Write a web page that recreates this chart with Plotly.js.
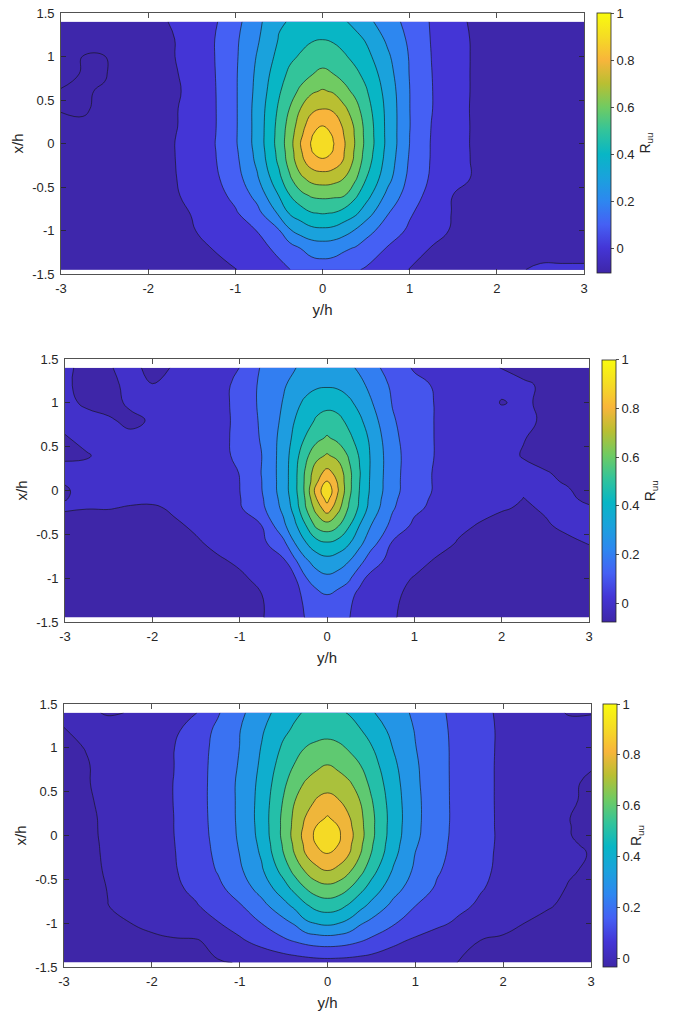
<!DOCTYPE html>
<html>
<head>
<meta charset="utf-8">
<script src="https://cdn.plot.ly/plotly-3.0.1.min.js"></script>
<style>
html,body{margin:0;padding:0;background:#fff;}
#chart{width:675px;height:1011px;}
</style>
</head>
<body>
<div id="chart"></div>
<script>
// ---------------- DATA ----------------
// horizontal grid positions, y/h
const yOverH = [-3,-2.75,-2.5,-2.25,-2,-1.75,-1.5,-1.25,-1,-0.75,-0.5,-0.375,-0.25,-0.125,0,0.125,0.25,0.375,0.5,0.75,1,1.25,1.5,1.75,2,2.25,2.5,2.75,3];
// vertical grid positions, x/h (top row first)
const xOverH = [1.4,1.2,1.0,0.8,0.6,0.4,0.2,0.1,0,-0.1,-0.2,-0.4,-0.6,-0.8,-1.0,-1.2,-1.45];

// R_uu, top panel (rows follow xOverH, columns follow yOverH)
const ruuTop = [
[-0.06,-0.06,-0.05,-0.04,-0.02,0.002,0.043,0.084,0.168,0.272,0.39,0.405,0.42,0.435,0.44,0.43,0.41,0.373,0.329,0.245,0.167,0.092,0.026,-0.015,-0.03,-0.04,-0.05,-0.05,-0.05],
[-0.06,-0.06,-0.05,-0.04,-0.025,-0.01,0.036,0.095,0.182,0.287,0.405,0.445,0.47,0.49,0.498,0.487,0.465,0.43,0.39,0.28,0.182,0.095,0.031,-0.01,-0.025,-0.04,-0.05,-0.05,-0.05],
[-0.07,-0.101,-0.102,-0.06,-0.03,-0.01,0.033,0.095,0.185,0.306,0.429,0.48,0.51,0.545,0.56,0.545,0.51,0.475,0.43,0.315,0.193,0.099,0.034,-0.01,-0.025,-0.04,-0.05,-0.05,-0.05],
[-0.08,-0.104,-0.104,-0.07,-0.035,-0.015,0.024,0.092,0.188,0.319,0.46,0.52,0.56,0.595,0.62,0.6,0.565,0.52,0.474,0.339,0.196,0.102,0.033,-0.01,-0.025,-0.04,-0.05,-0.05,-0.05],
[-0.104,-0.105,-0.095,-0.07,-0.04,-0.02,0.019,0.089,0.188,0.327,0.488,0.558,0.62,0.685,0.71,0.69,0.63,0.576,0.51,0.359,0.201,0.104,0.033,-0.01,-0.025,-0.04,-0.05,-0.05,-0.05],
[-0.104,-0.104,-0.092,-0.065,-0.04,-0.015,0.025,0.088,0.187,0.336,0.514,0.604,0.702,0.775,0.798,0.783,0.72,0.638,0.543,0.369,0.201,0.104,0.029,-0.01,-0.025,-0.04,-0.05,-0.05,-0.05],
[-0.085,-0.095,-0.08,-0.06,-0.04,-0.015,0.027,0.088,0.187,0.336,0.533,0.641,0.755,0.864,0.905,0.871,0.78,0.685,0.567,0.37,0.202,0.098,0.032,-0.01,-0.025,-0.04,-0.05,-0.05,-0.05],
[-0.078,-0.09,-0.07,-0.055,-0.038,-0.012,0.031,0.09,0.188,0.336,0.537,0.652,0.78,0.89,0.975,0.885,0.795,0.69,0.57,0.37,0.2,0.096,0.031,-0.01,-0.028,-0.04,-0.05,-0.05,-0.05],
[-0.07,-0.085,-0.06,-0.05,-0.035,-0.01,0.035,0.093,0.188,0.336,0.54,0.659,0.805,0.91,1.0,0.904,0.808,0.695,0.573,0.371,0.199,0.094,0.03,-0.01,-0.03,-0.04,-0.05,-0.05,-0.05],
[-0.065,-0.072,-0.058,-0.048,-0.033,-0.01,0.033,0.09,0.181,0.328,0.53,0.65,0.787,0.895,0.95,0.893,0.799,0.685,0.562,0.364,0.194,0.094,0.033,-0.01,-0.03,-0.04,-0.05,-0.05,-0.05],
[-0.06,-0.06,-0.055,-0.045,-0.03,-0.01,0.03,0.088,0.174,0.32,0.52,0.641,0.77,0.854,0.88,0.858,0.79,0.675,0.55,0.356,0.188,0.093,0.035,-0.01,-0.03,-0.04,-0.05,-0.05,-0.05],
[-0.06,-0.06,-0.055,-0.045,-0.03,-0.01,0.022,0.078,0.156,0.287,0.473,0.586,0.679,0.734,0.75,0.738,0.698,0.617,0.502,0.331,0.173,0.087,0.034,-0.01,-0.03,-0.04,-0.05,-0.05,-0.05],
[-0.06,-0.06,-0.055,-0.045,-0.03,-0.012,0.014,0.063,0.123,0.231,0.402,0.497,0.57,0.61,0.62,0.615,0.602,0.517,0.437,0.27,0.148,0.066,-0.002,-0.02,-0.035,-0.045,-0.05,-0.05,-0.05],
[-0.06,-0.06,-0.055,-0.045,-0.035,-0.02,0.002,0.046,0.089,0.168,0.317,0.41,0.45,0.495,0.505,0.497,0.46,0.42,0.347,0.205,0.111,0.048,-0.005,-0.025,-0.04,-0.045,-0.05,-0.05,-0.05],
[-0.06,-0.06,-0.055,-0.05,-0.04,-0.025,-0.005,0.023,0.062,0.102,0.193,0.29,0.34,0.372,0.38,0.372,0.34,0.293,0.236,0.151,0.084,0.029,-0.008,-0.025,-0.04,-0.045,-0.05,-0.05,-0.05],
[-0.06,-0.06,-0.06,-0.05,-0.045,-0.035,-0.015,0.002,0.036,0.072,0.12,0.162,0.203,0.24,0.25,0.242,0.215,0.195,0.159,0.094,0.042,-0.003,-0.015,-0.03,-0.04,-0.05,-0.05,-0.05,-0.05],
[-0.065,-0.065,-0.06,-0.06,-0.055,-0.045,-0.03,-0.015,-0.003,0.036,0.078,0.099,0.12,0.143,0.15,0.145,0.13,0.11,0.09,0.042,-0.003,-0.02,-0.035,-0.04,-0.04,-0.01,0.02,0.02,0.02]
];

// R_uu, middle panel
const ruuMid = [
[0.02,-0.03,-0.005,0.02,-0.02,0.005,0.03,0.05,0.101,0.209,0.266,0.294,0.33,0.345,0.35,0.343,0.32,0.283,0.237,0.153,0.09,0.06,0.04,0.02,-0.002,-0.02,-0.03,-0.03,-0.03],
[0.015,-0.03,-0.02,0.02,0.002,0.02,0.04,0.06,0.13,0.218,0.291,0.325,0.36,0.383,0.39,0.383,0.36,0.325,0.277,0.183,0.128,0.09,0.06,0.04,0.02,0.01,-0.01,-0.03,-0.04],
[0.015,-0.01,-0.03,0.015,0.025,0.03,0.04,0.065,0.13,0.22,0.305,0.365,0.42,0.46,0.47,0.46,0.42,0.37,0.31,0.195,0.139,0.095,0.07,0.045,-0.005,0.015,-0.02,-0.035,-0.04],
[0.02,0.02,0.01,-0.02,0.01,0.03,0.045,0.07,0.122,0.215,0.319,0.398,0.453,0.51,0.54,0.525,0.476,0.417,0.347,0.21,0.143,0.095,0.07,0.05,0.035,0.015,-0.01,-0.03,-0.04],
[-0.005,0.02,0.025,0.02,0.025,0.035,0.05,0.075,0.121,0.209,0.336,0.423,0.504,0.57,0.61,0.575,0.52,0.46,0.38,0.224,0.145,0.095,0.07,0.05,0.03,0.003,-0.02,-0.035,-0.045],
[-0.005,-0.005,0.02,0.025,0.03,0.04,0.055,0.08,0.114,0.198,0.346,0.45,0.57,0.665,0.71,0.67,0.59,0.488,0.393,0.235,0.147,0.095,0.07,0.05,0.025,-0.005,-0.025,-0.04,-0.045],
[0.01,0.02,0.025,0.03,0.035,0.045,0.06,0.08,0.101,0.202,0.346,0.462,0.61,0.76,0.83,0.77,0.629,0.505,0.391,0.235,0.141,0.09,0.065,0.05,0.035,0.02,0.005,-0.015,-0.03],
[0.003,0.018,0.025,0.03,0.038,0.048,0.063,0.083,0.1,0.198,0.346,0.462,0.615,0.78,0.905,0.79,0.63,0.5,0.388,0.233,0.141,0.09,0.063,0.045,0.03,0.012,0.01,-0.005,-0.025],
[-0.005,0.015,0.025,0.03,0.04,0.05,0.065,0.085,0.099,0.196,0.346,0.462,0.617,0.835,0.98,0.807,0.629,0.495,0.386,0.232,0.141,0.09,0.06,0.04,0.025,0.004,0.015,0.005,-0.02],
[-0.001,0.008,0.014,0.012,0.015,0.03,0.052,0.078,0.095,0.186,0.335,0.447,0.603,0.79,0.93,0.775,0.609,0.488,0.374,0.221,0.131,0.083,0.055,0.03,0.015,-0.001,0.01,0.008,-0.008],
[0.005,0.002,0.003,-0.005,-0.01,0.01,0.04,0.07,0.09,0.176,0.323,0.432,0.588,0.735,0.86,0.735,0.589,0.48,0.362,0.21,0.121,0.075,0.05,0.02,0.005,-0.006,0.005,0.01,0.005],
[-0.02,-0.03,-0.035,-0.035,-0.03,-0.01,0.01,0.04,0.065,0.099,0.277,0.373,0.49,0.62,0.66,0.61,0.51,0.396,0.302,0.171,0.08,0.05,0.015,-0.005,-0.02,-0.02,-0.005,0.01,0.01],
[-0.03,-0.04,-0.045,-0.045,-0.04,-0.025,-0.008,0.015,0.045,0.075,0.173,0.295,0.39,0.46,0.49,0.465,0.41,0.322,0.247,0.09,0.06,0.03,-0.005,-0.02,-0.03,-0.03,-0.02,-0.01,0.002],
[-0.04,-0.05,-0.05,-0.05,-0.045,-0.035,-0.02,-0.008,0.01,0.04,0.085,0.18,0.28,0.345,0.37,0.35,0.305,0.24,0.14,0.07,0.03,-0.008,-0.025,-0.035,-0.04,-0.04,-0.035,-0.03,-0.02],
[-0.05,-0.055,-0.055,-0.055,-0.05,-0.045,-0.035,-0.02,-0.01,0.015,0.06,0.085,0.19,0.25,0.28,0.26,0.22,0.12,0.08,0.03,-0.005,-0.02,-0.03,-0.04,-0.045,-0.045,-0.045,-0.04,-0.04],
[-0.06,-0.06,-0.06,-0.06,-0.055,-0.05,-0.045,-0.035,-0.02,-0.002,0.05,0.075,0.115,0.165,0.195,0.165,0.12,0.08,0.05,0.01,-0.015,-0.03,-0.04,-0.045,-0.05,-0.05,-0.05,-0.05,-0.05],
[-0.065,-0.065,-0.065,-0.065,-0.06,-0.055,-0.05,-0.04,-0.025,-0.005,0.04,0.07,0.102,0.122,0.13,0.122,0.103,0.072,0.045,0.005,-0.02,-0.035,-0.045,-0.05,-0.055,-0.055,-0.06,-0.06,-0.06]
];

// R_uu, bottom panel
const ruuBot = [
[0.01,0.01,-0.005,0.002,0.03,0.06,0.095,0.191,0.277,0.364,0.445,0.483,0.51,0.525,0.53,0.515,0.493,0.452,0.41,0.345,0.283,0.22,0.169,0.124,0.08,0.05,0.02,-0.005,-0.002],
[-0.002,0.015,0.025,0.035,0.05,0.08,0.147,0.219,0.297,0.389,0.481,0.515,0.545,0.562,0.57,0.56,0.54,0.505,0.462,0.372,0.295,0.227,0.172,0.125,0.085,0.06,0.04,0.025,0.015],
[-0.015,0.002,0.025,0.045,0.07,0.098,0.159,0.226,0.301,0.405,0.517,0.558,0.602,0.622,0.63,0.618,0.59,0.548,0.507,0.396,0.303,0.231,0.173,0.124,0.085,0.06,0.04,0.025,0.015],
[-0.025,-0.005,0.022,0.045,0.07,0.099,0.162,0.23,0.308,0.417,0.55,0.605,0.64,0.68,0.702,0.678,0.635,0.601,0.543,0.42,0.313,0.233,0.172,0.122,0.085,0.055,0.035,0.02,0.005],
[-0.03,-0.005,0.02,0.045,0.075,0.101,0.163,0.232,0.317,0.429,0.581,0.65,0.71,0.745,0.76,0.745,0.71,0.648,0.576,0.437,0.318,0.234,0.172,0.122,0.085,0.06,0.035,0.01,-0.01],
[-0.035,-0.01,0.018,0.046,0.074,0.101,0.164,0.232,0.317,0.437,0.607,0.697,0.755,0.808,0.83,0.805,0.752,0.697,0.607,0.447,0.324,0.235,0.172,0.122,0.085,0.06,0.035,0.008,-0.012],
[-0.04,-0.015,0.014,0.044,0.073,0.1,0.163,0.23,0.317,0.44,0.625,0.723,0.805,0.865,0.91,0.865,0.805,0.723,0.625,0.453,0.325,0.235,0.173,0.123,0.085,0.057,0.03,0.001,-0.02],
[-0.04,-0.015,0.013,0.042,0.072,0.1,0.161,0.229,0.315,0.437,0.626,0.73,0.822,0.905,0.955,0.9,0.82,0.73,0.625,0.45,0.323,0.234,0.172,0.123,0.085,0.058,0.03,0.002,-0.018],
[-0.04,-0.015,0.012,0.04,0.07,0.099,0.159,0.227,0.313,0.433,0.627,0.737,0.838,0.925,0.995,0.915,0.833,0.737,0.625,0.447,0.32,0.232,0.171,0.123,0.086,0.058,0.03,0.002,-0.015],
[-0.04,-0.017,0.011,0.039,0.069,0.097,0.156,0.223,0.308,0.423,0.614,0.72,0.822,0.905,0.955,0.9,0.818,0.72,0.612,0.438,0.31,0.228,0.169,0.121,0.086,0.059,0.033,0.007,-0.009],
[-0.04,-0.018,0.01,0.038,0.067,0.095,0.153,0.219,0.302,0.413,0.601,0.704,0.805,0.862,0.905,0.862,0.802,0.704,0.599,0.428,0.299,0.224,0.167,0.119,0.085,0.06,0.035,0.012,-0.003],
[-0.045,-0.02,0.007,0.035,0.063,0.091,0.143,0.206,0.284,0.387,0.538,0.632,0.71,0.775,0.801,0.775,0.713,0.632,0.538,0.39,0.282,0.209,0.16,0.115,0.083,0.058,0.032,0.007,-0.01],
[-0.05,-0.025,0.002,0.029,0.056,0.083,0.12,0.177,0.248,0.338,0.459,0.53,0.601,0.65,0.67,0.65,0.602,0.53,0.463,0.338,0.251,0.188,0.147,0.105,0.076,0.049,0.024,-0.005,-0.02],
[-0.05,-0.025,-0.001,0.022,0.046,0.069,0.093,0.137,0.191,0.27,0.367,0.422,0.485,0.535,0.55,0.535,0.486,0.43,0.373,0.274,0.201,0.16,0.119,0.086,0.06,0.034,0.007,-0.015,-0.025],
[-0.045,-0.03,-0.015,-0.001,0.023,0.047,0.071,0.095,0.144,0.201,0.271,0.31,0.38,0.405,0.42,0.402,0.37,0.31,0.274,0.208,0.161,0.118,0.084,0.056,0.029,-0.001,-0.02,-0.035,-0.04],
[-0.05,-0.045,-0.04,-0.03,-0.02,-0.01,-0.008,0.03,0.085,0.135,0.184,0.207,0.23,0.245,0.25,0.245,0.23,0.207,0.181,0.123,0.083,0.054,0.025,-0.002,-0.015,-0.025,-0.035,-0.04,-0.045],
[-0.055,-0.05,-0.045,-0.04,-0.03,-0.02,-0.012,-0.006,0.003,0.02,0.04,0.048,0.055,0.062,0.065,0.063,0.06,0.055,0.05,0.035,0.022,0.01,-0.001,-0.01,-0.02,-0.03,-0.035,-0.04,-0.045]
];

// colour-bar limits (top, middle, bottom)
const cbarMin = [-0.106, -0.076, -0.035];
const cbarMax = [1, 1, 1];
// contour levels of each panel
const firstLevel = [-0.1, 0, 0];
const lastLevel = 0.9;
const levelStep = 0.1;
// tick labels
const xTickVals = [-3,-2,-1,0,1,2,3];
const yTickVals = [-1.5,-1,-0.5,0,0.5,1,1.5];
const cbTickVals = [0,0.2,0.4,0.6,0.8,1];
const xTitle = 'y/h', yTitle = 'x/h', cbTitle = 'R<sub>uu</sub>';

// ---------------- STYLE ----------------
const W = 675, H = 1011;
const FONT = '"Liberation Sans", Arial, Helvetica, sans-serif';
const INK = '#262626';
// parula-like colour map (colour stops)
const PARULA = [
  [0.000,[62,38,168]],
  [0.096,[68,53,214]],
  [0.186,[69,96,244]],
  [0.277,[45,135,240]],
  [0.367,[26,162,220]],
  [0.457,[8,182,197]],
  [0.548,[51,196,154]],
  [0.638,[112,203,98]],
  [0.729,[185,191,50]],
  [0.819,[248,181,59]],
  [0.909,[245,220,36]],
  [1.000,[249,251,14]]
];
function rgb(c){return 'rgb('+c.map(v=>Math.round(v)).join(',')+')';}
function parula(f){
  f = Math.max(0, Math.min(1, f));
  for(let i=1;i<PARULA.length;i++){
    if(f <= PARULA[i][0]){
      const f0=PARULA[i-1][0], c0=PARULA[i-1][1], f1=PARULA[i][0], c1=PARULA[i][1];
      const t=(f-f0)/(f1-f0);
      return rgb(c0.map((v,k)=>v+(c1[k]-v)*t));
    }
  }
  return rgb(PARULA[PARULA.length-1][1]);
}
const parulaScale = PARULA.map(s=>[s[0], rgb(s[1])]);

// pixel boxes of the three panels and colour bars
const boxes = [
  {l:61, r:584, t:13,  b:274, cbx:596.5, cbt:13,  cbb:273},
  {l:65, r:589, t:359, b:622, cbx:601.5, cbt:360, cbb:621.5},
  {l:64, r:591, t:704, b:967, cbx:603,   cbt:704, cbb:967}
];
const grids = [ruuTop, ruuMid, ruuBot];

// MATLAB-like fill: each band gets the colour of its lower level
function bandScale(p){
  const levels = [];
  for(let L=firstLevel[p]; L<=lastLevel+1e-9; L+=levelStep) levels.push(+L.toFixed(4));
  const n = levels.length;
  const cols = [parula(0)].concat(levels.map(L=>parula((L-cbarMin[p])/(cbarMax[p]-cbarMin[p]))));
  return cols.map((c,k)=>[k/n, c]);
}

const xAsc = xOverH.slice().reverse();
const traces = [];
const layout = {
  width: W, height: H,
  margin: {l:0, r:0, t:0, b:0},
  paper_bgcolor: '#ffffff', plot_bgcolor: '#ffffff',
  showlegend: false,
  font: {family: FONT, size: 13, color: INK}
};

grids.forEach((g, p) => {
  const s = p === 0 ? '' : String(p+1);
  const bx = boxes[p];
  traces.push({
    type: 'contour',
    x: yOverH, y: xAsc, z: g.slice().reverse(),
    xaxis: 'x'+s, yaxis: 'y'+s,
    autocontour: false,
    contours: {start: firstLevel[p], end: lastLevel, size: levelStep, coloring: 'fill', showlines: true},
    colorscale: bandScale(p),
    showscale: false,
    line: {color: 'rgba(20,20,20,0.9)', width: 0.7, smoothing: 1.3},
    hoverinfo: 'skip'
  });
  traces.push({
    type: 'scatter', mode: 'markers',
    x: [-9], y: [-9],
    xaxis: 'x'+s, yaxis: 'y'+s,
    hoverinfo: 'skip', showlegend: false,
    marker: {
      size: 1, color: [cbarMin[p]],
      cmin: cbarMin[p], cmax: cbarMax[p],
      colorscale: parulaScale, showscale: true,
      colorbar: {
        x: bx.cbx/W, xanchor: 'left', xpad: 0,
        y: 1-(bx.cbt+bx.cbb)/2/H, yanchor: 'middle', ypad: 0,
        len: (bx.cbb-bx.cbt)/H, lenmode: 'fraction',
        thickness: 14, thicknessmode: 'pixels',
        outlinewidth: 0.8, outlinecolor: INK,
        tickvals: cbTickVals, ticktext: cbTickVals.map(String),
        ticks: 'outside', ticklen: 3, tickwidth: 0.8, tickcolor: INK,
        tickfont: {family: FONT, size: 13, color: INK},
        title: {text: cbTitle, side: 'right', font: {family: FONT, size: 14, color: INK}}
      }
    }
  });
  layout['xaxis'+s] = {
    domain: [bx.l/W, bx.r/W], anchor: 'y'+s,
    range: [-3, 3], tickvals: xTickVals, ticktext: xTickVals.map(String),
    ticks: 'inside', ticklen: 5, tickwidth: 0.8, tickcolor: INK,
    showline: true, mirror: 'ticks', linecolor: INK, linewidth: 0.8,
    showgrid: false, zeroline: false, ticklabelstandoff: 3,
    tickfont: {family: FONT, size: 13, color: INK},
    title: {text: xTitle, font: {family: FONT, size: 15, color: INK}, standoff: 8}
  };
  layout['yaxis'+s] = {
    domain: [1-bx.b/H, 1-bx.t/H], anchor: 'x'+s,
    range: [-1.5, 1.5], tickvals: yTickVals, ticktext: yTickVals.map(String),
    ticks: 'inside', ticklen: 5, tickwidth: 0.8, tickcolor: INK,
    showline: true, mirror: 'ticks', linecolor: INK, linewidth: 0.8,
    showgrid: false, zeroline: false, ticklabelstandoff: 3,
    tickfont: {family: FONT, size: 13, color: INK},
    title: {text: yTitle, font: {family: FONT, size: 15, color: INK}, standoff: 4}
  };
});

Plotly.newPlot('chart', traces, layout, {displayModeBar: false, staticPlot: true});
</script>
</body>
</html>
